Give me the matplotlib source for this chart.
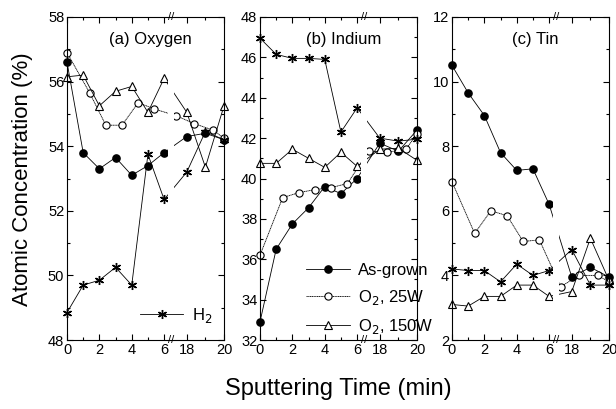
import matplotlib
matplotlib.use('Agg')
from matplotlib import pyplot as plt
from matplotlib.ticker import FixedLocator

plt.rcParams['font.family'] = ['Liberation Sans', 'DejaVu Sans']

# sputtering time (min); the O2 25W samples were taken a bit off the others
t_main = [0, 1, 2, 3, 4, 5, 6, 18, 19, 20]
t_25w = [0, 1.4, 2.4, 3.4, 4.4, 5.4, 17.4, 18.4, 19.4, 20]

# (a) oxygen
o_asgrown = [56.6, 53.8, 53.3, 53.65, 53.1, 53.4, 53.8, 54.3, 54.4, 54.2]
o_25w = [56.9, 55.65, 54.65, 54.65, 55.35, 55.15, 54.95, 54.7, 54.5, 54.25]
o_150w = [56.15, 56.2, 55.25, 55.7, 55.85, 55.05, 56.1, 55.05, 53.35, 55.25]
o_h2 = [48.85, 49.7, 49.85, 50.25, 49.7, 53.75, 52.35, 53.2, 54.45, 54.2]

# (b) indium
in_asgrown = [32.9, 36.5, 37.75, 38.55, 39.6, 39.25, 40.0, 41.75, 41.35, 42.4]
in_25w = [36.2, 39.05, 39.3, 39.45, 39.55, 39.75, 41.35, 41.3, 41.45, 42.2]
in_150w = [40.75, 40.75, 41.45, 41.0, 40.55, 41.3, 40.6, 41.45, 41.5, 40.9]
in_h2 = [46.95, 46.15, 45.95, 45.95, 45.9, 42.3, 43.5, 42.0, 41.85, 41.95]

# (c) tin
sn_asgrown = [10.5, 9.65, 8.95, 7.8, 7.25, 7.3, 6.2, 3.95, 4.25, 3.95]
sn_25w = [6.9, 5.3, 6.0, 5.85, 5.05, 5.1, 3.65, 4.0, 4.0, 3.8]
sn_150w = [3.1, 3.05, 3.35, 3.35, 3.7, 3.7, 3.35, 3.5, 5.15, 3.85]
sn_h2 = [4.2, 4.15, 4.15, 3.8, 4.35, 4.0, 4.15, 4.8, 3.7, 3.7]

panels = [
    ('(a) Oxygen', (48, 58), o_asgrown, o_25w, o_150w, o_h2),
    ('(b) Indium', (32, 48), in_asgrown, in_25w, in_150w, in_h2),
    ('(c) Tin', (2, 12), sn_asgrown, sn_25w, sn_150w, sn_h2),
]

xtick_labels = [0, 2, 4, 6, 18, 20]
xminor = [1, 3, 5, 19]


# broken time axis: 0..6 as is, then 18..20 squeezed in after a gap
def to_axis(t):
    if t <= 6.2:
        return t
    return 7.4 + (t - 18) * 1.15


def draw_series(ax, t, v, **kw):
    x = [to_axis(ti) for ti in t]
    return ax.plot(x, v, color='black', lw=0.6, clip_on=False, zorder=3, **kw)[0]


fig = plt.figure(figsize=(6.16, 4.09), dpi=100)
lefts = [67, 260, 452]
for i, (title, ylim, asg, w25, w150, h2) in enumerate(panels):
    ax = fig.add_axes([lefts[i] / 616, 1 - 340 / 409, 157 / 616, 323 / 409])
    h_as = draw_series(ax, t_main, asg, marker='o', ms=5.2, mfc='black', mec='black')
    h_25 = draw_series(ax, t_25w, w25, marker='o', ms=5.2, mfc='white', mec='black',
                       mew=0.8, ls=(0, (1.5, 0.6)))
    h_150 = draw_series(ax, t_main, w150, marker='^', ms=5.8, mfc='white', mec='black', mew=0.8)
    h_h2 = draw_series(ax, t_main, h2, marker=(6, 2, 0), ms=6.5, mec='black', mew=1.0)
    # hide the line segments at the break
    ax.axvspan(6.22, 6.6, color='white', zorder=3.5, lw=0)

    ax.set_xlim(0, to_axis(20))
    ax.set_ylim(*ylim)
    ax.set_yticks(range(ylim[0], ylim[1] + 1, 2))
    ax.yaxis.set_minor_locator(FixedLocator(range(ylim[0], ylim[1] + 1)))
    ax.set_xticks([to_axis(t) for t in xtick_labels])
    ax.set_xticklabels([str(t) for t in xtick_labels])
    ax.xaxis.set_minor_locator(FixedLocator([to_axis(t) for t in xminor]))
    ax.tick_params(which='both', direction='in', top=True, right=True, labelsize=10.5,
                   width=0.8, pad=2)
    ax.tick_params(which='major', length=4)
    ax.tick_params(which='minor', length=2.5)
    for sp in ax.spines.values():
        sp.set_linewidth(0.8)
        sp.set_zorder(4)

    for yy in (0, 1):
        ax.text(6.42, yy, '//', transform=ax.get_xaxis_transform(), ha='center', va='center',
                fontsize=8, zorder=6, clip_on=False)

    ax.text(0.53, 0.93, title, transform=ax.transAxes, ha='center', va='center', fontsize=12,
            zorder=7)

    if i == 0:
        ax.legend([h_h2], ['H$_2$'], loc='lower right', bbox_to_anchor=(1.02, 0.0),
                  frameon=False, fontsize=12, handlelength=2.6, handletextpad=0.5)
    if i == 1:
        ax.legend([h_as, h_25, h_150], ['As-grown', 'O$_2$, 25W', 'O$_2$, 150W'],
                  loc='lower left', bbox_to_anchor=(0.2, -0.035), frameon=False, fontsize=12,
                  handlelength=2.6, handletextpad=0.5, labelspacing=0.6)

fig.text(0.036, 0.562, 'Atomic Concentration (%)', rotation=90, ha='center', va='center',
         fontsize=16)
fig.text(0.549, 0.05, 'Sputtering Time (min)', ha='center', va='center', fontsize=17)

fig.savefig('out.png', dpi=100)
